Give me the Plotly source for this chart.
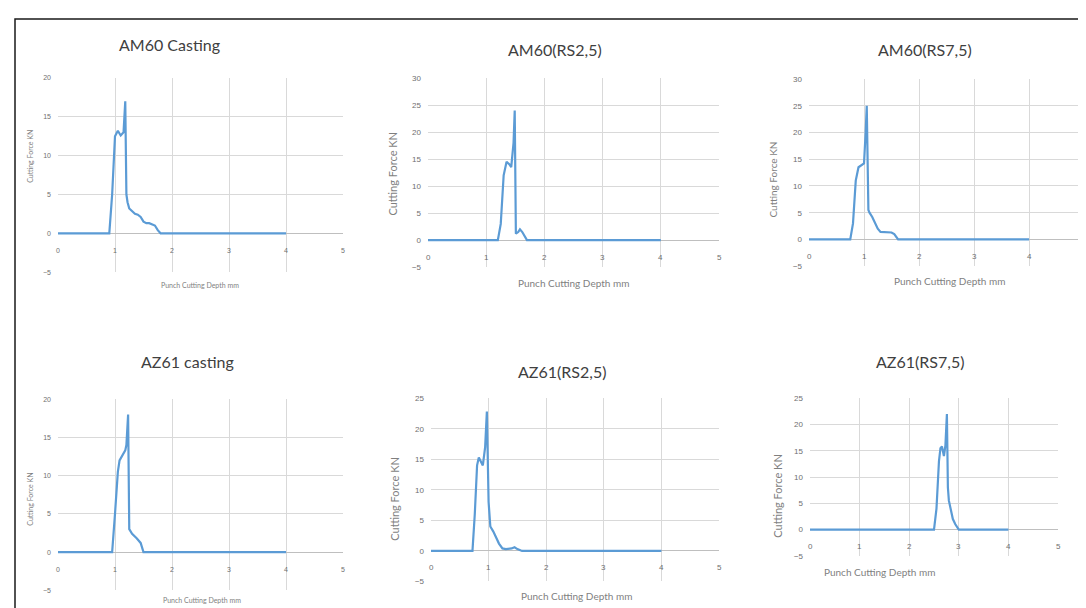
import plotly.graph_objects as go

W, H = 1086, 608

titles = ["AM60 Casting", "AM60(RS2,5)", "AM60(RS7,5)",
          "AZ61 casting", "AZ61(RS2,5)", "AZ61(RS7,5)"]
x_title = "Punch Cutting Depth mm"
y_title = "Cutting Force KN"

# --- data ---
am60_cast_x = [0, 0.9, 0.95, 1.0, 1.05, 1.1, 1.15, 1.18, 1.2, 1.22, 1.25, 1.3, 1.35, 1.4, 1.45, 1.5, 1.55, 1.6, 1.65, 1.7, 1.75, 1.8, 4.0]
am60_cast_y = [0, 0, 5, 12.5, 13.2, 12.6, 13.0, 17.0, 5.0, 4.0, 3.2, 2.8, 2.5, 2.4, 2.1, 1.5, 1.3, 1.3, 1.2, 1.0, 0.4, 0, 0]

am60_rs25_x = [0, 1.2, 1.25, 1.3, 1.35, 1.4, 1.43, 1.47, 1.49, 1.51, 1.55, 1.58, 1.62, 1.66, 1.7, 4.0]
am60_rs25_y = [0, 0, 3, 12, 14.5, 14.0, 13.5, 18, 24, 1.2, 1.5, 2.0, 1.5, 0.8, 0, 0]

am60_rs75_x = [0, 0.75, 0.8, 0.85, 0.9, 0.95, 1.0, 1.03, 1.05, 1.08, 1.1, 1.15, 1.2, 1.25, 1.3, 1.4, 1.5, 1.55, 1.62, 4.0]
am60_rs75_y = [0, 0, 3, 11, 13.5, 13.8, 14.2, 20, 25, 5.5, 5.0, 4.2, 3.0, 2.0, 1.4, 1.4, 1.3, 1.0, 0, 0]

az61_cast_x = [0, 0.95, 1.0, 1.05, 1.08, 1.12, 1.18, 1.2, 1.23, 1.25, 1.3, 1.38, 1.45, 1.5, 4.0]
az61_cast_y = [0, 0, 5, 10.5, 12, 12.5, 13.3, 14.0, 18, 3.0, 2.4, 1.8, 1.2, 0, 0]

az61_rs25_x = [0, 0.72, 0.76, 0.8, 0.83, 0.87, 0.9, 0.94, 0.97, 1.0, 1.03, 1.08, 1.12, 1.18, 1.24, 1.3, 1.4, 1.45, 1.5, 1.58, 4.0]
az61_rs25_y = [0, 0, 6, 14, 15.3, 14.5, 14.0, 17, 22.8, 8, 4.0, 3.2, 2.3, 1.2, 0.4, 0.3, 0.4, 0.6, 0.3, 0, 0]

az61_rs75_x = [0, 2.5, 2.55, 2.6, 2.63, 2.66, 2.7, 2.73, 2.76, 2.78, 2.8, 2.84, 2.88, 2.93, 3.0, 4.0]
az61_rs75_y = [0, 0, 4, 13, 15.5, 15.8, 14, 16, 22, 8, 5.5, 3.5, 2, 1, 0, 0]

x_ticks = [0, 1, 2, 3, 4, 5]
y_ticks_20 = [-5, 0, 5, 10, 15, 20]
y_ticks_25 = [-5, 0, 5, 10, 15, 20, 25]
y_ticks_30 = [-5, 0, 5, 10, 15, 20, 25, 30]

series = [(am60_cast_x, am60_cast_y), (am60_rs25_x, am60_rs25_y), (am60_rs75_x, am60_rs75_y),
          (az61_cast_x, az61_cast_y), (az61_rs25_x, az61_rs25_y), (az61_rs75_x, az61_rs75_y)]
yticks = [y_ticks_20, y_ticks_30, y_ticks_30, y_ticks_20, y_ticks_25, y_ticks_25]

# --- layout in pixels: plot box (left, right, top, bottom) ---
boxes = [(50, 335, 67, 264), (420, 711, 67, 259), (801, 1076, 68, 258),
         (50, 335, 393, 587), (423, 711, 392, 578), (802, 1050, 392, 552)]
title_pos = [(161, 33), (547, 38), (917, 38), (179, 355), (554, 365), (912, 355)]
xt_pos = [(192, 277, 7), (565, 275, 10), (941, 273, 10), (194, 597, 7), (568, 593, 10), (871, 568, 10)]
yt_pos = [(22, 147, 7), (385, 164, 11), (765, 170, 10), (22, 495, 7), (387, 494, 11), (770, 491, 11)]
tick_size = [7, 8, 8, 7, 8, 8]

def px(x):
    return x / W

def py(y):
    return 1 - y / H

fig = go.Figure()
annotations = []
grid = "#D9D9D9"
tick_col = "#6F6F6F"
title_font = "Lato, Open Sans, sans-serif"

for i, ((xs, ys), yt, box) in enumerate(zip(series, yticks, boxes)):
    n = "" if i == 0 else str(i + 1)
    l, r, t, b = box
    fig.add_trace(go.Scatter(x=xs, y=ys, mode="lines",
                             line=dict(color="#5B9BD5", width=2.2),
                             xaxis="x" + n, yaxis="y" + n, showlegend=False))
    fig.layout["xaxis" + n] = dict(domain=[px(l), px(r)], anchor="y" + n,
                                   range=[0, 5], tickvals=x_ticks, showticklabels=False,
                                   showgrid=True, gridcolor=grid, gridwidth=1,
                                   zeroline=False, showline=False, fixedrange=True)
    fig.layout["yaxis" + n] = dict(domain=[py(b), py(t)], anchor="x" + n,
                                   range=[yt[0], yt[-1]], tickvals=yt,
                                   showgrid=True, gridcolor=grid, gridwidth=1,
                                   zeroline=True, zerolinecolor="#BFBFBF", zerolinewidth=1,
                                   showline=False, ticks="", ticklen=0,
                                   ticklabelstandoff=6,
                                   tickfont=dict(size=tick_size[i], color=tick_col,
                                                 family="Liberation Sans, sans-serif"),
                                   fixedrange=True)
    # x tick labels next to the y=0 axis
    for xv in x_ticks:
        annotations.append(dict(x=xv, y=0, xref="x" + n, yref="y" + n, text=str(xv),
                                showarrow=False, yshift=-17, xanchor="center", yanchor="middle",
                                font=dict(size=tick_size[i], color=tick_col,
                                          family="Liberation Sans, sans-serif")))
    tx, ty = title_pos[i]
    annotations.append(dict(x=px(tx), y=py(ty), xref="paper", yref="paper", text=titles[i],
                            showarrow=False, xanchor="center", yanchor="middle",
                            font=dict(size=16, color="#404040", family=title_font)))
    ax_, ay_, s = xt_pos[i]
    annotations.append(dict(x=px(ax_), y=py(ay_), xref="paper", yref="paper", text=x_title,
                            showarrow=False, xanchor="center", yanchor="middle",
                            font=dict(size=s, color="#7F7F7F", family=title_font)))
    bx, by, s = yt_pos[i]
    annotations.append(dict(x=px(bx), y=py(by), xref="paper", yref="paper", text=y_title,
                            showarrow=False, xanchor="center", yanchor="middle", textangle=-90,
                            font=dict(size=s, color="#7F7F7F", family=title_font)))

shapes = [dict(type="rect", xref="paper", yref="paper", x0=px(7), x1=px(1083), y0=py(606), y1=py(7),
               line=dict(color="#1a1a1a", width=1.5), fillcolor="rgba(0,0,0,0)")]

fig.update_layout(width=W, height=H, margin=dict(l=0, r=0, t=0, b=0),
                  paper_bgcolor="white", plot_bgcolor="white",
                  annotations=annotations, shapes=shapes)

fig.write_html("out.html", config={"displayModeBar": False})
